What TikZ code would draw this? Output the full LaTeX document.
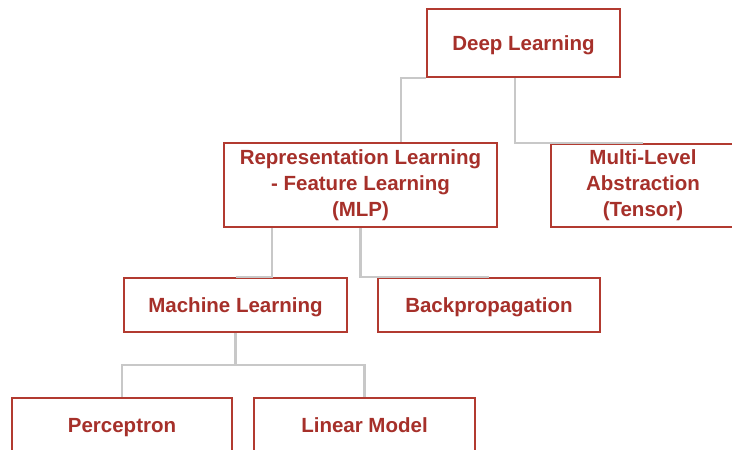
\documentclass[tikz,border=0pt]{standalone}
\usepackage{fontspec}
\setmainfont{Liberation Sans}
\usetikzlibrary{calc}
\definecolor{boxred}{HTML}{B23A30}
\definecolor{textred}{HTML}{A6302A}
\definecolor{linkgray}{HTML}{C8C8C8}
\tikzset{
  box/.style={draw=boxred, line width=2.4pt, fill=white, rectangle,
    text=textred, align=center, inner sep=0pt,
    font=\fontsize{20.5}{26}\selectfont\bfseries},
  oneline/.style={box, text height=14.7pt, text depth=0pt},
  link/.style={draw=linkgray, line width=2.2pt}
}
\begin{document}
\begin{tikzpicture}[x=1pt, y=-1pt]
\useasboundingbox (0,0) rectangle (732,450);

\node[oneline, minimum width=193pt, minimum height=68pt] (dl) at (523.5,43) {Deep Learning};
\node[box, minimum width=273pt, minimum height=84pt] (rep) at (360.5,185)
  {Representation Learning\\- Feature Learning\\(MLP)};
\node[box, minimum width=184pt, minimum height=83pt] (mla) at (643,185.5)
  {Multi-Level\\Abstraction\\(Tensor)};
\node[oneline, minimum width=223pt, minimum height=54pt] (mlearn) at (235.5,305) {Machine Learning};
\node[oneline, minimum width=222pt, minimum height=54pt] (bp) at (489,305) {Backpropagation};
\node[oneline, minimum width=220pt, minimum height=54pt] (perc) at (122,425) {Perceptron};
\node[oneline, minimum width=221pt, minimum height=54pt] (lin) at (364.5,425) {Linear Model};

% connectors
\draw[link] (dl.south west) -| ([xshift=40.5pt]rep.north);
\draw[link] ([xshift=-8.5pt]dl.south) |- (mla.north);
\draw[link] ([xshift=-88.5pt]rep.south) |- (mlearn.north);
\draw[link] (rep.south) |- (bp.north);
\draw[link] (mlearn.south) -- ++(0,32) coordinate (split) -| (perc.north);
\draw[link] (split) -| (lin.north);
\end{tikzpicture}
\end{document}
